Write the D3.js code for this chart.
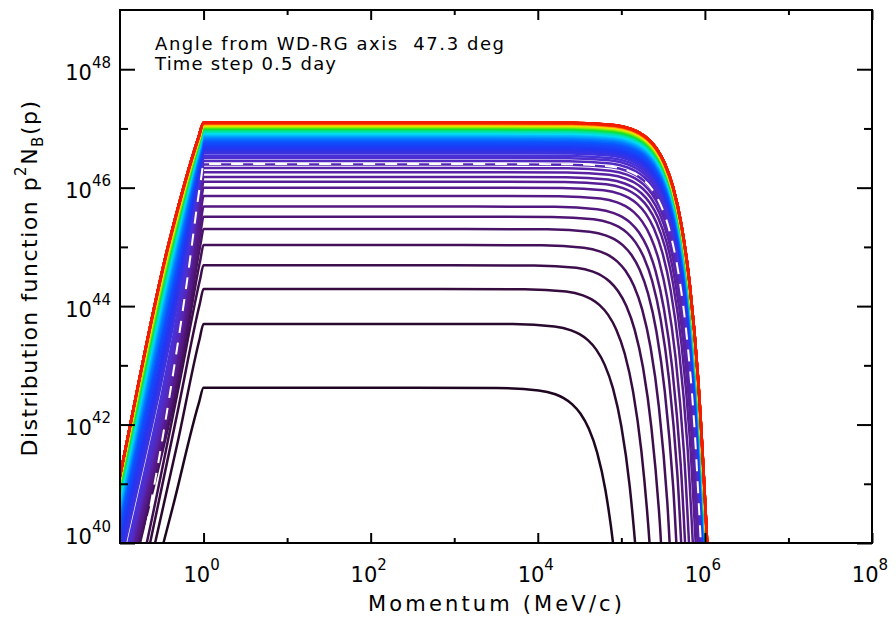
<!DOCTYPE html>
<html>
<head>
<meta charset="utf-8">
<script src="https://cdn.jsdelivr.net/npm/d3@7"></script>
<style>
  body { margin: 0; background: #fff; }
  text { font-family: "DejaVu Sans", sans-serif; fill: #000; }
</style>
</head>
<body>
<div id="chart"></div>
<script>
// plateau level of each curve, log10 of p^2 N_B(p), one per time step
var plateau = [
	42.62, 43.70, 44.29, 44.69, 45.03, 45.30, 45.51, 45.68, 45.86, 46.00,
	46.10, 46.18, 46.26, 46.33, 46.39, 46.45, 46.50, 46.54, 46.58, 46.61,
	46.64, 46.67, 46.70, 46.72, 46.745, 46.77, 46.79, 46.81, 46.83, 46.85,
	46.865, 46.88, 46.895, 46.91, 46.92, 46.935, 46.945, 46.955, 46.965, 46.975,
	46.985, 46.993, 47.00, 47.008, 47.015, 47.021, 47.027, 47.033, 47.038, 47.043,
	47.048, 47.052, 47.056, 47.060, 47.064, 47.067, 47.070, 47.073, 47.076, 47.078,
	47.080, 47.082, 47.084, 47.086, 47.088, 47.089, 47.090, 47.091, 47.092, 47.093,
	47.094, 47.095, 47.096, 47.097, 47.098, 47.098, 47.099, 47.099, 47.100, 47.100
];
// cutoff momentum of each curve, log10(MeV/c)
var cutoff = [
	4.51, 4.70, 4.84, 4.96, 5.05, 5.12, 5.17, 5.21, 5.25, 5.29,
	5.32, 5.34, 5.355, 5.365, 5.37, 5.375, 5.38, 5.385, 5.388, 5.39,
	5.393, 5.395, 5.397, 5.399, 5.40, 5.402, 5.403, 5.404, 5.405, 5.406,
	5.407, 5.408, 5.409, 5.41, 5.41, 5.411, 5.411, 5.412, 5.412, 5.413,
	5.413, 5.414, 5.414, 5.414, 5.415, 5.415, 5.415, 5.416, 5.416, 5.416,
	5.417, 5.417, 5.417, 5.417, 5.418, 5.418, 5.418, 5.418, 5.418, 5.419,
	5.419, 5.419, 5.419, 5.419, 5.419, 5.419, 5.419, 5.419, 5.419, 5.419,
	5.42, 5.42, 5.42, 5.42, 5.42, 5.42, 5.42, 5.42, 5.42, 5.42
];
// log10 p where each curve lies 2 decades under its plateau
var riseMid = [
	-0.366, -0.31, -0.30, -0.29, -0.26, -0.24, -0.23, -0.22, -0.21, -0.21,
	-0.205, -0.20, -0.20, -0.20, -0.20, -0.21, -0.22, -0.23, -0.245, -0.255,
	-0.265, -0.275, -0.29, -0.295, -0.30, -0.31, -0.315, -0.32, -0.33, -0.34,
	-0.345, -0.35, -0.355, -0.36, -0.365, -0.37, -0.37, -0.375, -0.375, -0.38,
	-0.38, -0.385, -0.385, -0.39, -0.39, -0.392, -0.394, -0.396, -0.398, -0.40,
	-0.40, -0.402, -0.403, -0.404, -0.405, -0.406, -0.407, -0.407, -0.408, -0.408,
	-0.409, -0.409, -0.409, -0.409, -0.409, -0.409, -0.409, -0.409, -0.409, -0.409,
	-0.41, -0.41, -0.41, -0.41, -0.41, -0.41, -0.41, -0.41, -0.41, -0.41
];
// log10 p where each curve comes down to 1e40
var riseLow = [
	-0.48, -0.58, -0.64, -0.68, -0.76, -0.78, -0.79, -0.80, -0.81, -0.82,
	-0.83, -0.84, -0.85, -0.855, -0.86, -0.87, -0.88, -0.90, -0.94, -0.96,
	-0.98, -1.00, -1.02, -1.03, -1.04, -1.05, -1.06, -1.07, -1.08, -1.09,
	-1.095, -1.10, -1.11, -1.115, -1.12, -1.125, -1.13, -1.135, -1.14, -1.142,
	-1.145, -1.147, -1.15, -1.152, -1.154, -1.156, -1.158, -1.16, -1.161, -1.162,
	-1.163, -1.164, -1.165, -1.166, -1.167, -1.167, -1.168, -1.168, -1.169, -1.169,
	-1.17, -1.17, -1.17, -1.17, -1.17, -1.17, -1.17, -1.17, -1.17, -1.17,
	-1.17, -1.17, -1.17, -1.17, -1.17, -1.17, -1.17, -1.17, -1.17, -1.17
];
// dashed reference curve
var dashedPlateau = 46.40;
var dashedCutoff = 5.37;
var dashedMid = -0.20;
var dashedLow = -0.72;

// shape of the high-momentum cutoff (log10 p/pc  vs  decades below plateau)
var cutU = [-2, -1, -0.5, -0.3, -0.2, -0.1, 0, 0.1, 0.2, 0.3, 0.4, 0.5, 0.6, 0.7, 0.8];
var cutDrop = [0, 0.004, 0.043, 0.109, 0.173, 0.274, 0.434, 0.688, 1.09, 1.73, 2.74, 4.34, 6.88, 10.9, 17.3];

var xMajor = [1, 1e2, 1e4, 1e6, 1e8];
var xMinor = [1e1, 1e3, 1e5, 1e7];
var yMajor = [1e40, 1e42, 1e44, 1e46, 1e48];
var yMinor = [1e41, 1e43, 1e45, 1e47];

var colorPos = [0, 0.03, 0.09, 0.16, 0.21, 0.27, 0.33, 0.38, 0.43, 0.48, 0.53, 0.60, 0.67, 0.76, 0.86, 1];
var colorVal = ['#1e0620', '#3a0c44', '#541880', '#5a22a8', '#4c30d4', '#2036f4', '#0a58ff', '#0098ff',
	'#00dcf4', '#00e4a0', '#10e030', '#98ee00', '#f4e400', '#ff9800', '#ff4400', '#f01c00'];

var width = 896, height = 620;
var plotLeft = 120, plotRight = 872, plotTop = 10, plotBottom = 543;

var svg = d3.select('#chart')
	.append('svg')
	.attr('width', width)
	.attr('height', height);

var x_scale = d3.scaleLog().domain([1e-1, 1e8]).range([plotLeft, plotRight]);
var y_scale = d3.scaleLog().domain([1e40, 1e49]).range([plotBottom, plotTop]);
var color = d3.scaleLinear().domain(colorPos).range(colorVal).interpolate(d3.interpolateRgb);

svg.append('clipPath').attr('id', 'plot')
	.append('rect')
	.attr('x', plotLeft).attr('y', plotTop)
	.attr('width', plotRight - plotLeft).attr('height', plotBottom - plotTop);

// points of one curve in log10 space: rise, plateau, cutoff
function curvePoints(level, mid, low, pc) {
	var pts = [];
	pts.push([low - 0.5, 37]);
	pts.push([low, 40]);
	if (level - 2 > 40.05) pts.push([mid, level - 2]);
	pts.push([mid * 0.15, level - 0.25]);
	pts.push([0, level]);
	cutU.forEach(function(u, i) {
		pts.push([pc + u, level - cutDrop[i]]);
	});
	return pts;
}

var line = d3.line()
	.x(function(d){ return x_scale(Math.pow(10, d[0])); })
	.y(function(d){ return y_scale(Math.pow(10, Math.max(d[1], 37))); })
	.curve(d3.curveMonotoneX);

var n = plateau.length;
var g = svg.append('g').attr('clip-path', 'url(#plot)');

// Create curves
g.selectAll('path.step')
	.data(plateau)
	.enter()
	.append('path')
	.attr('class', 'step')
	.attr('d', function(d, i){ return line(curvePoints(d, riseMid[i], riseLow[i], cutoff[i])); })
	.attr('fill', 'none')
	.attr('stroke', function(d, i){ return color(i / (n - 1)); })
	.attr('stroke-width', 2.5);

g.append('path')
	.attr('d', line(curvePoints(dashedPlateau, dashedMid, dashedLow, dashedCutoff)))
	.attr('fill', 'none')
	.attr('stroke', '#fff')
	.attr('stroke-width', 2)
	.attr('stroke-dasharray', '12,10');

// Create axes (ticks only, frame drawn separately)
function ticks(axis, values, len, tx, ty) {
	var a = svg.append('g')
		.attr('transform', 'translate(' + tx + ',' + ty + ')')
		.call(axis.tickValues(values).tickSizeInner(-len).tickSizeOuter(0).tickFormat(''));
	a.select('.domain').remove();
	a.selectAll('line').attr('stroke', '#000').attr('stroke-width', 2);
}
ticks(d3.axisBottom(x_scale), xMajor, 10, 0, plotBottom);
ticks(d3.axisBottom(x_scale), xMinor, 5, 0, plotBottom);
ticks(d3.axisTop(x_scale), xMajor, 10, 0, plotTop);
ticks(d3.axisTop(x_scale), xMinor, 5, 0, plotTop);
ticks(d3.axisLeft(y_scale), yMajor, 15, plotLeft, 0);
ticks(d3.axisLeft(y_scale), yMinor, 8, plotLeft, 0);
ticks(d3.axisRight(y_scale), yMajor, 15, plotRight, 0);
ticks(d3.axisRight(y_scale), yMinor, 8, plotRight, 0);

svg.append('rect')
	.attr('x', plotLeft).attr('y', plotTop)
	.attr('width', plotRight - plotLeft).attr('height', plotBottom - plotTop)
	.attr('fill', 'none')
	.attr('stroke', '#000')
	.attr('stroke-width', 2);

// Tick labels
function expo(v) { return Math.round(Math.log10(v)); }

var xl = svg.append('g').selectAll('text')
	.data(xMajor)
	.enter()
	.append('text')
	.attr('x', function(d){ return x_scale(d) - 2; })
	.attr('y', 582)
	.attr('text-anchor', 'middle');
xl.append('tspan').attr('font-size', 21).text('10');
xl.append('tspan').attr('font-size', 15).attr('dy', -12).text(function(d){ return expo(d); });

var yl = svg.append('g').selectAll('text')
	.data(yMajor)
	.enter()
	.append('text')
	.attr('x', 111)
	.attr('y', function(d){ return y_scale(d) + (d === 1e40 ? 1 : 10.5); })
	.attr('text-anchor', 'end');
yl.append('tspan').attr('font-size', 21).text('10');
yl.append('tspan').attr('font-size', 15).attr('dy', -12).text(function(d){ return expo(d); });

// Axis titles
svg.append('text')
	.attr('x', 368).attr('y', 611)
	.attr('font-size', 21)
	.attr('textLength', 254)
	.attr('lengthAdjust', 'spacing')
	.text('Momentum (MeV/c)');

var yt = svg.append('text')
	.attr('transform', 'translate(37,278) rotate(-90)')
	.attr('text-anchor', 'middle')
	.attr('font-size', 22)
	.attr('letter-spacing', 1.5);
yt.append('tspan').text('Distribution function p');
yt.append('tspan').attr('font-size', 15).attr('dy', -11).text('2');
yt.append('tspan').attr('dy', 11).text('N');
yt.append('tspan').attr('font-size', 15).attr('dy', 6).text('B');
yt.append('tspan').attr('dy', -6).text('(p)');

// Annotation
svg.append('text')
	.attr('x', 155).attr('y', 50)
	.attr('font-size', 18)
	.attr('textLength', 349)
	.attr('lengthAdjust', 'spacing')
	.style('white-space', 'pre')
	.text('Angle from WD-RG axis  47.3 deg');
svg.append('text')
	.attr('x', 155).attr('y', 70)
	.attr('font-size', 18)
	.attr('textLength', 181)
	.attr('lengthAdjust', 'spacing')
	.text('Time step 0.5 day');
</script>
</body>
</html>
